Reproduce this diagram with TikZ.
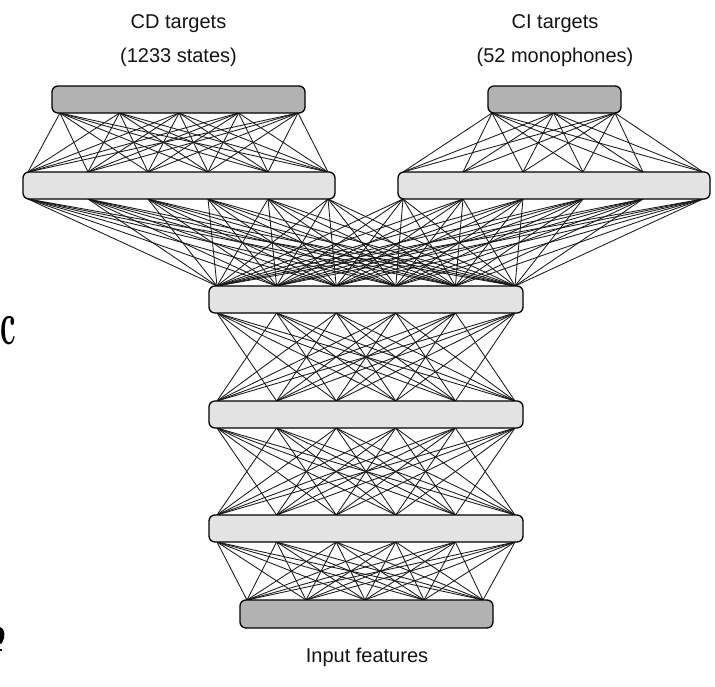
\documentclass[tikz,border=0pt]{standalone}
\usepackage{fontspec}
\setsansfont{Liberation Sans}
\usepackage{graphicx}
\begin{document}
\begin{tikzpicture}[x=1pt,y=-1pt,
  darkbar/.style={draw=black, line width=1.3pt, fill=black!30, rounded corners=6pt,
    inner sep=0pt, minimum height=27pt},
  lightbar/.style={draw=black, line width=1.3pt, fill=black!11, rounded corners=6pt,
    inner sep=0pt, minimum height=27pt},
  conn/.style={draw=black!90, line width=0.85pt},
  lbl/.style={font=\sffamily\fontsize{20}{24}\selectfont, text=black!92, align=center, inner sep=0pt},
  stray/.style={inner sep=0pt, anchor=west}]
\useasboundingbox (0,0) rectangle (715,686);
\fill[white] (0,0) rectangle (715,686);

% attachment coordinates
\foreach \i in {1,...,5} \coordinate (cdtb\i) at ({60+(\i-1)*59.5},113);
\foreach \i in {1,...,6} {
  \coordinate (cdht\i) at ({28+(\i-1)*60},172);
  \coordinate (cdhb\i) at ({28+(\i-1)*60},199);
  \coordinate (ciht\i) at ({403+(\i-1)*60},172);
  \coordinate (cihb\i) at ({403+(\i-1)*60},199);
  \coordinate (shat\i) at ({217+(\i-1)*59.6},286);
  \coordinate (shab\i) at ({217+(\i-1)*59.6},313);
  \coordinate (shbt\i) at ({217+(\i-1)*59.6},401);
  \coordinate (shbb\i) at ({217+(\i-1)*59.6},428);
  \coordinate (shct\i) at ({217+(\i-1)*59.6},515);
  \coordinate (shcb\i) at ({217+(\i-1)*59.6},542);
}
\foreach \i in {1,...,3} \coordinate (citb\i) at ({492+(\i-1)*61.5},113);
\foreach \i in {1,...,5} \coordinate (inpt\i) at ({247+(\i-1)*59},600);

% connections
\foreach \i in {1,...,5} \foreach \j in {1,...,6} \draw[conn] (cdtb\i) -- (cdht\j);
\foreach \i in {1,...,3} \foreach \j in {1,...,6} \draw[conn] (citb\i) -- (ciht\j);
\foreach \i in {1,...,6} \foreach \j in {1,...,6} {
  \draw[conn] (cdhb\i) -- (shat\j);
  \draw[conn] (cihb\i) -- (shat\j);
  \ifnum\i=\j\else
    \draw[conn] (shab\i) -- (shbt\j);
    \draw[conn] (shbb\i) -- (shct\j);
  \fi
}
\foreach \i in {1,...,6} \foreach \j in {1,...,5} \draw[conn] (shcb\i) -- (inpt\j);

% bars
\node[darkbar, minimum width=253pt] (cdt) at (178.5,99.5) {};
\node[darkbar, minimum width=133pt] (cit) at (554.5,99.5) {};
\node[lightbar, minimum width=312pt] (cdh) at (179,185.5) {};
\node[lightbar, minimum width=312pt] (cih) at (554,185.5) {};
\node[lightbar, minimum width=314pt] (sha) at (366,299.5) {};
\node[lightbar, minimum width=314pt] (shb) at (366,414.5) {};
\node[lightbar, minimum width=314pt] (shc) at (366,528.5) {};
\node[darkbar, minimum width=253pt, minimum height=28pt] (inp) at (366.5,614) {};

% labels
\node[lbl] (cdlbl) at (178.5,24) {CD targets};
\node[lbl] (cdsub) at (178.5,57) {(1233 states)};
\node[lbl] (cilbl) at (555,24) {CI targets};
\node[lbl] (cisub) at (555,57) {(52 monophones)};
\node[lbl] (inlbl) at (367,657) {Input features};

% stray slide fragments at left edge
\node[stray] (strayc) at (0,331) {\scalebox{0.5}[1]{\fontsize{62}{62}\selectfont\bfseries c}};
\fill[black] (0,627) .. controls (5,628) and (6,637) .. (2,643) -- (0,644) -- cycle;
\fill[black] (0,649) rectangle (2,651);
\end{tikzpicture}
\end{document}
